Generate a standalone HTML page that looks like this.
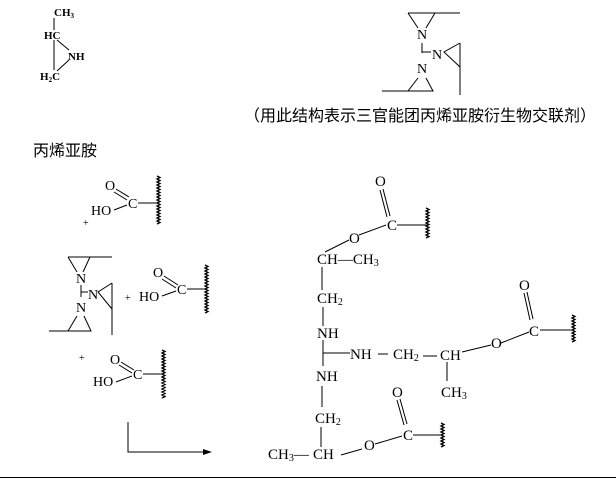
<!DOCTYPE html>
<html><head><meta charset="utf-8"><style>
body{margin:0;background:#fff;width:616px;height:480px;overflow:hidden}
svg{display:block}
text{font-family:"Liberation Serif",serif;fill:#000}
.cn{font-family:"Liberation Sans","Noto Sans CJK SC",sans-serif;font-size:16px}
.s{font-size:11px;font-weight:bold}
.m{font-size:14px}
.p{font-size:15px}
line,polyline,path{stroke:#000;stroke-width:1;fill:none}
path.wv{stroke-width:1.3}
</style></head><body>
<svg width="616" height="480" viewBox="0 0 616 480">
<!-- top-left aziridine -->
<text class="s" x="54" y="16">CH<tspan font-size="7" dy="2">3</tspan></text>
<text class="s" x="44" y="39">HC</text>
<text class="s" x="68" y="60">NH</text>
<text class="s" x="40" y="80">H<tspan font-size="7" dy="2">2</tspan><tspan dy="-2">C</tspan></text>
<line x1="54" y1="18" x2="54" y2="30" stroke="#888"/>
<line x1="54" y1="40" x2="54" y2="70" stroke="#555"/>
<line x1="57" y1="40" x2="69" y2="50"/>
<line x1="57" y1="71" x2="69" y2="60"/>
<text class="cn" x="33" y="156">丙烯亚胺</text>

<!-- top-right crosslinker -->
<line x1="408" y1="13" x2="460" y2="13"/>
<polyline points="408,13 418,28"/><polyline points="435,13 426,28"/>
<text class="m" x="417" y="39" fill="#333">N</text>
<line x1="422" y1="43" x2="422" y2="53"/>
<line x1="422" y1="52" x2="431" y2="52"/>
<text class="m" x="432" y="59" fill="#333">N</text>
<polyline points="460,43 444,52 460,67"/>
<line x1="460" y1="43" x2="460" y2="95"/>
<text class="m" x="417" y="73" fill="#333">N</text>
<polyline points="418,78 408,91 433,91 426,78"/>
<line x1="382" y1="91" x2="408" y2="91"/>
<text class="cn" x="244" y="121">（用此结构表示三官能团丙烯亚胺衍生物交联剂）</text>

<!-- first acid -->
<text class="m" x="105" y="190">O</text>
<line x1="116" y1="189" x2="129" y2="197"/><line x1="114" y1="192" x2="127" y2="200"/>
<text class="m" x="128" y="208">C</text>
<text class="m" x="91" y="215">HO</text>
<line x1="114" y1="210" x2="127" y2="205"/>
<line x1="138" y1="203" x2="158" y2="203"/>
<path class="wv" d="M157,176 l3,1.5 l-3,1.5 l3,1.5 l-3,1.5 l3,1.5 l-3,1.5 l3,1.5 l-3,1.5 l3,1.5 l-3,1.5 l3,1.5 l-3,1.5 l3,1.5 l-3,1.5 l3,1.5 l-3,1.5 l3,1.5 l-3,1.5 l3,1.5 l-3,1.5 l3,1.5 l-3,1.5 l3,1.5 l-3,1.5 l3,1.5 l-3,1.5 l3,1.5 l-3,1.5 l3,1.5 l-3,1.5 l3,1.5 l-3,1.5"/>
<text x="83" y="226" font-size="10">+</text>

<!-- second crosslinker -->
<line x1="68" y1="257" x2="112" y2="257"/>
<polyline points="68,257 77,272"/><polyline points="90,257 83,272"/>
<text class="m" x="76" y="283" fill="#333">N</text>
<line x1="81" y1="285" x2="81" y2="297"/>
<line x1="81" y1="292" x2="88" y2="292"/>
<text class="m" x="88" y="299" fill="#333">N</text>
<polyline points="112,283 98,292 112,309"/>
<line x1="112" y1="283" x2="112" y2="335"/>
<text class="m" x="76" y="312" fill="#333">N</text>
<polyline points="77,316 68,331 91,331 84,316"/>
<line x1="49" y1="331" x2="68" y2="331"/>
<text x="125" y="301" font-size="10">+</text>
<text class="m" x="153" y="277">O</text>
<line x1="164" y1="276" x2="178" y2="285"/><line x1="162" y1="279" x2="176" y2="288"/>
<text class="m" x="177" y="294">C</text>
<text class="m" x="139" y="301">HO</text>
<line x1="162" y1="296" x2="176" y2="291"/>
<line x1="187" y1="289" x2="206" y2="289"/>
<path class="wv" d="M205,265 l3,1.5 l-3,1.5 l3,1.5 l-3,1.5 l3,1.5 l-3,1.5 l3,1.5 l-3,1.5 l3,1.5 l-3,1.5 l3,1.5 l-3,1.5 l3,1.5 l-3,1.5 l3,1.5 l-3,1.5 l3,1.5 l-3,1.5 l3,1.5 l-3,1.5 l3,1.5 l-3,1.5 l3,1.5 l-3,1.5 l3,1.5 l-3,1.5 l3,1.5 l-3,1.5 l3,1.5 l-3,1.5 l3,1.5 l-3,1.5"/>

<!-- third acid -->
<text x="79" y="361" font-size="10">+</text>
<text class="m" x="110" y="364">O</text>
<line x1="121" y1="362" x2="134" y2="370"/><line x1="119" y1="365" x2="132" y2="373"/>
<text class="m" x="133" y="379">C</text>
<text class="m" x="93" y="386">HO</text>
<line x1="116" y1="382" x2="132" y2="376"/>
<line x1="143" y1="374" x2="163" y2="374"/>
<path class="wv" d="M162,350 l3,1.5 l-3,1.5 l3,1.5 l-3,1.5 l3,1.5 l-3,1.5 l3,1.5 l-3,1.5 l3,1.5 l-3,1.5 l3,1.5 l-3,1.5 l3,1.5 l-3,1.5 l3,1.5 l-3,1.5 l3,1.5 l-3,1.5 l3,1.5 l-3,1.5 l3,1.5 l-3,1.5 l3,1.5 l-3,1.5 l3,1.5 l-3,1.5 l3,1.5 l-3,1.5 l3,1.5 l-3,1.5 l3,1.5 l-3,1.5"/>

<!-- arrow -->
<polyline points="128,422 128,452 206,452"/>
<polygon points="212,452 203,449 203,455" fill="#000"/>

<!-- product -->
<text class="p" x="375" y="186">O</text>
<line x1="380" y1="190" x2="387" y2="217"/><line x1="383" y1="189" x2="390" y2="216"/>
<text class="p" x="387" y="230">C</text>
<line x1="397" y1="225" x2="427" y2="225"/>
<path class="wv" d="M426,208 l3,1.5 l-3,1.5 l3,1.5 l-3,1.5 l3,1.5 l-3,1.5 l3,1.5 l-3,1.5 l3,1.5 l-3,1.5 l3,1.5 l-3,1.5 l3,1.5 l-3,1.5 l3,1.5 l-3,1.5 l3,1.5 l-3,1.5 l3,1.5 l-3,1.5"/>
<text class="p" x="349" y="243">O</text>
<line x1="359" y1="235" x2="386" y2="225"/>
<line x1="325" y1="252" x2="349" y2="240"/>
<text class="p" x="317" y="264">CH—CH<tspan font-size="10" dy="2">3</tspan></text>
<line x1="322" y1="267" x2="322" y2="290"/>
<text class="p" x="317" y="303">CH<tspan font-size="10" dy="2">2</tspan></text>
<line x1="323" y1="307" x2="323" y2="326"/>
<text class="p" x="317" y="338">NH</text>
<line x1="323" y1="340" x2="323" y2="366"/>
<line x1="323" y1="353" x2="350" y2="353"/>
<text class="p" x="350" y="359">NH</text>
<line x1="378" y1="354" x2="388" y2="354"/>
<text class="p" x="393" y="359">CH<tspan font-size="10" dy="2">2</tspan></text>
<line x1="423" y1="356" x2="437" y2="356"/>
<text class="p" x="440" y="360">CH</text>
<line x1="462" y1="352" x2="491" y2="345"/>
<text class="p" x="491" y="348">O</text>
<line x1="501" y1="343" x2="529" y2="332"/>
<text class="p" x="519" y="290">O</text>
<line x1="524" y1="293" x2="530" y2="320"/><line x1="527" y1="292" x2="533" y2="319"/>
<text class="p" x="529" y="336">C</text>
<line x1="540" y1="330" x2="573" y2="330"/>
<path class="wv" d="M572,315 l3,1.5 l-3,1.5 l3,1.5 l-3,1.5 l3,1.5 l-3,1.5 l3,1.5 l-3,1.5 l3,1.5 l-3,1.5 l3,1.5 l-3,1.5 l3,1.5 l-3,1.5 l3,1.5 l-3,1.5 l3,1.5 l-3,1.5"/>
<line x1="447" y1="362" x2="447" y2="381"/>
<text class="p" x="441" y="397">CH<tspan font-size="10" dy="2">3</tspan></text>
<text class="p" x="316" y="381">NH</text>
<line x1="322" y1="386" x2="322" y2="407"/>
<text class="p" x="315" y="423">CH<tspan font-size="10" dy="2">2</tspan></text>
<line x1="321" y1="427" x2="321" y2="447"/>
<text class="p" x="268" y="459">CH<tspan font-size="10" dy="2">3</tspan><tspan dy="-2">—</tspan></text>
<text class="p" x="313" y="459">CH</text>
<line x1="341" y1="455" x2="362" y2="449"/>
<text class="p" x="364" y="450">O</text>
<line x1="375" y1="444" x2="402" y2="436"/>
<text class="p" x="392" y="397">O</text>
<line x1="397" y1="400" x2="404" y2="425"/><line x1="400" y1="399" x2="407" y2="424"/>
<text class="p" x="403" y="440">C</text>
<line x1="413" y1="435" x2="442" y2="435"/>
<path class="wv" d="M441,423 l3,1.5 l-3,1.5 l3,1.5 l-3,1.5 l3,1.5 l-3,1.5 l3,1.5 l-3,1.5 l3,1.5 l-3,1.5 l3,1.5 l-3,1.5 l3,1.5 l-3,1.5 l3,1.5 l-3,1.5"/>

<line x1="0" y1="477.5" x2="616" y2="477.5" stroke="#c8c8c8" stroke-width="2"/>
</svg>
</body></html>
